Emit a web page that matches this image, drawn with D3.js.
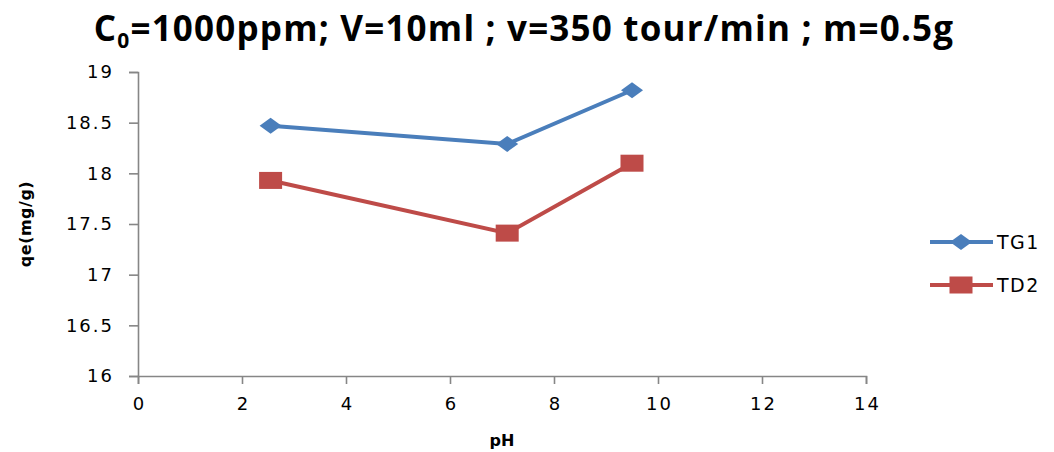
<!DOCTYPE html>
<html lang="en">
<head>
  <meta charset="UTF-8">
  <title>qe vs pH</title>
  <style>
    body { margin: 0; background: white; }
    .axis path, .axis line { stroke: #868686; stroke-width: 1.6; }
    .axis text { font-family: "DejaVu Sans", sans-serif; font-size: 18px; letter-spacing: 2px; fill: #000; }
  </style>
</head>
<body>
<div id="chart"></div>
<script src="https://d3js.org/d3.v7.min.js"></script>
<script>
  const pH = [2.55, 7.1, 9.5];
  const tg1 = [18.47, 18.29, 18.82];
  const td2 = [17.93, 17.41, 18.1];
  const seriesNames = ["TG1", "TD2"];
  const xTicks = [0, 2, 4, 6, 8, 10, 12, 14];
  const yTicks = [16, 16.5, 17, 17.5, 18, 18.5, 19];

  const W = 1054, H = 452;
  const margin = {top: 72, right: 188, bottom: 76, left: 138};
  const width = W - margin.left - margin.right;
  const height = H - margin.top - margin.bottom;

  const svg = d3.select("#chart").append("svg")
    .attr("width", W)
    .attr("height", H);

  const g = svg.append("g")
    .attr("transform", `translate(${margin.left},${margin.top})`);

  const x = d3.scaleLinear().domain([0, 14]).range([0, width]);
  const y = d3.scaleLinear().domain([16, 19]).range([height, 0]);

  g.append("g")
    .attr("class", "axis")
    .attr("transform", `translate(0,${height})`)
    .call(d3.axisBottom(x).tickValues(xTicks).tickFormat(d => d).tickSize(8).tickSizeOuter(8).tickPadding(13))
    .selectAll("text").attr("dx", "1px");

  g.append("g")
    .attr("class", "axis")
    .call(d3.axisLeft(y).tickValues(yTicks).tickFormat(d => d).tickSize(9).tickSizeOuter(9).tickPadding(15));

  const colors = ["#4a7ebb", "#be4b48"];
  const values = [tg1, td2];

  const line = d3.line()
    .x((d, i) => x(pH[i]))
    .y(d => y(d));

  values.forEach((vals, s) => {
    g.append("path")
      .datum(vals)
      .attr("fill", "none")
      .attr("stroke", colors[s])
      .attr("stroke-width", 4)
      .attr("d", line);
  });

  function marker(sel, s, cx, cy) {
    if (s === 0) {
      sel.append("path")
        .attr("d", `M${cx - 11},${cy} L${cx},${cy - 8} L${cx + 11},${cy} L${cx},${cy + 8} Z`)
        .attr("fill", colors[0]);
    } else {
      sel.append("rect")
        .attr("x", cx - 11.5).attr("y", cy - 8.5)
        .attr("width", 23).attr("height", 17)
        .attr("fill", colors[1]);
    }
  }

  values.forEach((vals, s) => {
    vals.forEach((v, i) => marker(g, s, x(pH[i]), y(v)));
  });

  // legend
  const legend = svg.append("g");
  seriesNames.forEach((name, s) => {
    const ly = 242 + s * 43;
    legend.append("line")
      .attr("x1", 930).attr("x2", 993)
      .attr("y1", ly).attr("y2", ly)
      .attr("stroke", colors[s]).attr("stroke-width", 4);
    marker(legend, s, 961, ly);
    legend.append("text")
      .attr("x", 997).attr("y", ly + 7)
      .style("font-family", "DejaVu Sans, sans-serif")
      .style("font-size", "19px")
      .style("letter-spacing", "1.5px")
      .text(name);
  });

  // title
  const title = svg.append("text")
    .attr("x", 524).attr("y", 41)
    .attr("text-anchor", "middle")
    .style("font-family", "Open Sans, sans-serif")
    .style("font-weight", "bold")
    .style("font-size", "35px")
    .style("letter-spacing", "1.2px");
  title.append("tspan").text("C");
  title.append("tspan").attr("dy", 7).style("font-size", "21px").text("0");
  title.append("tspan").attr("dy", -7).text("=1000ppm; V=10ml ; v=350 tour/min ; m=0.5g");

  svg.append("text")
    .attr("x", margin.left + width / 2).attr("y", 446)
    .attr("text-anchor", "middle")
    .style("font-family", "DejaVu Sans, sans-serif")
    .style("font-weight", "bold")
    .style("font-size", "16px")
    .text("pH");

  svg.append("text")
    .attr("transform", `translate(31,${margin.top + height / 2}) rotate(-90)`)
    .attr("text-anchor", "middle")
    .style("font-family", "DejaVu Sans, sans-serif")
    .style("font-weight", "bold")
    .style("font-size", "16px")
    .style("letter-spacing", "0.5px")
    .text("qe(mg/g)");
</script>
</body>
</html>
